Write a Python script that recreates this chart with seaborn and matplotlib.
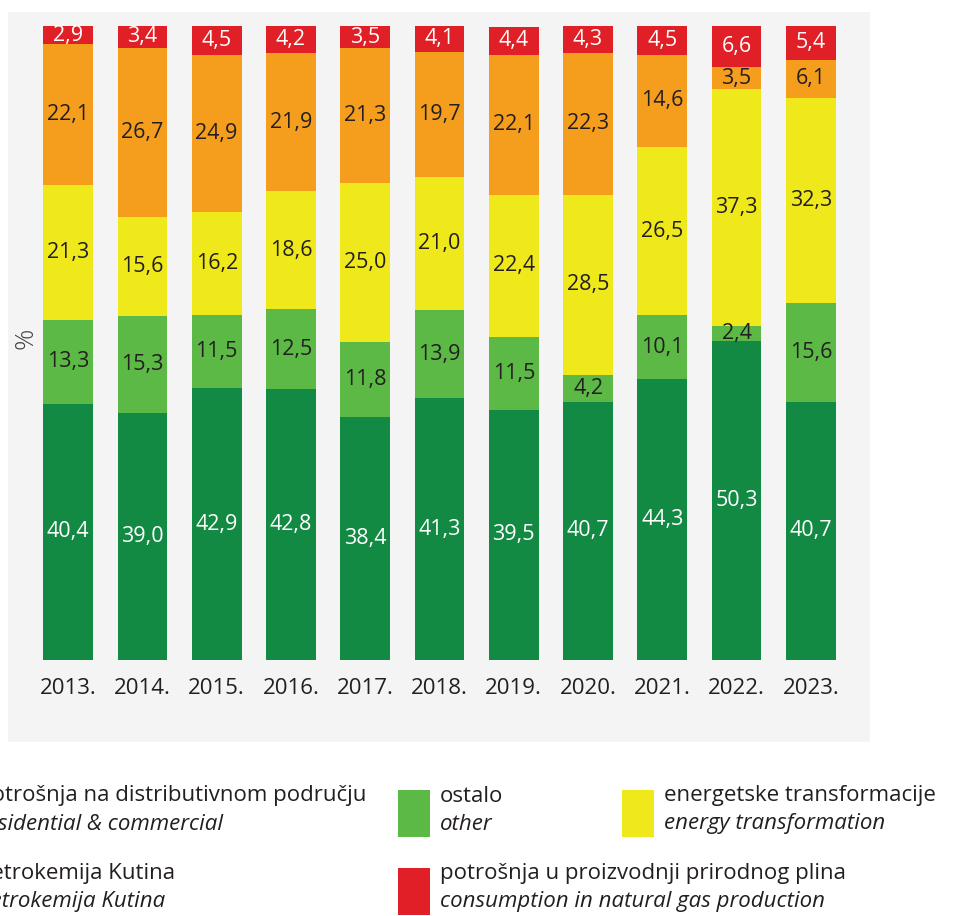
import matplotlib
matplotlib.use('Agg')
import matplotlib.pyplot as plt
from matplotlib.patches import Rectangle
import seaborn as sns
import pandas as pd

# data (% share of natural gas consumption)
years = ['2013.', '2014.', '2015.', '2016.', '2017.', '2018.', '2019.', '2020.', '2021.', '2022.', '2023.']
distribution = [40.4, 39.0, 42.9, 42.8, 38.4, 41.3, 39.5, 40.7, 44.3, 50.3, 40.7]
other = [13.3, 15.3, 11.5, 12.5, 11.8, 13.9, 11.5, 4.2, 10.1, 2.4, 15.6]
energy = [21.3, 15.6, 16.2, 18.6, 25.0, 21.0, 22.4, 28.5, 26.5, 37.3, 32.3]
petrokemija = [22.1, 26.7, 24.9, 21.9, 21.3, 19.7, 22.1, 22.3, 14.6, 3.5, 6.1]
production = [2.9, 3.4, 4.5, 4.2, 3.5, 4.1, 4.4, 4.3, 4.5, 6.6, 5.4]

series = ['distribution', 'other', 'energy', 'petrokemija', 'production']
colors = {'distribution': '#138a43', 'other': '#5cb946', 'energy': '#efe91b',
          'petrokemija': '#f59e1e', 'production': '#e01f26'}
label_colors = {'distribution': 'white', 'other': '#231f20', 'energy': '#231f20',
                'petrokemija': '#231f20', 'production': 'white'}
legend_hr = {'distribution': 'potrošnja na distributivnom području', 'other': 'ostalo',
             'energy': 'energetske transformacije', 'petrokemija': 'Petrokemija Kutina',
             'production': 'potrošnja u proizvodnji prirodnog plina'}
legend_en = {'distribution': 'residential & commercial', 'other': 'other',
             'energy': 'energy transformation', 'petrokemija': 'Petrokemija Kutina',
             'production': 'consumption in natural gas production'}

df = pd.DataFrame({'year': years, 'distribution': distribution, 'other': other,
                   'energy': energy, 'petrokemija': petrokemija, 'production': production})

sns.set_style('white')
plt.rcParams['font.family'] = ['Open Sans', 'DejaVu Sans']

W, H = 954, 916
fig = plt.figure(figsize=(W / 100, H / 100), dpi=100)
fig.patch.set_facecolor('white')

# gray panel behind the chart
fig.patches.append(Rectangle((8 / W, 1 - 742 / H), 862 / W, 730 / H, transform=fig.transFigure,
                             facecolor='#f4f4f4', edgecolor='none', zorder=-10))

ax = fig.add_axes([31 / W, 1 - 660 / H, 817 / W, 634 / H])
ax.patch.set_alpha(0)

bottom = [0.0] * len(years)
for s in series:
    sns.barplot(data=df, x='year', y=s, color=colors[s], width=0.67, bottom=bottom,
                saturation=1, ax=ax, linewidth=0)
    cont = ax.containers[-1]
    ax.bar_label(cont, labels=[f'{v:.1f}'.replace('.', ',') for v in df[s]], label_type='center',
                 color=label_colors[s], fontsize=15.5)
    bottom = [b + v for b, v in zip(bottom, df[s])]

ax.set_ylim(0, 100)
ax.set_xlim(-0.5, len(years) - 0.5)
ax.set_yticks([])
ax.set_xlabel('')
ax.set_ylabel('')
sns.despine(ax=ax, left=True, bottom=True)
ax.tick_params(axis='x', length=0, pad=13, labelsize=16, labelcolor='#231f20')

fig.text(26 / W, 1 - 338 / H, '%', rotation=90, ha='center', va='center', fontsize=19,
         color='#444444', fontweight='light')

# legend (first column runs off the left edge, as in the source)
positions = {'distribution': (-64, 790), 'petrokemija': (-64, 868), 'other': (398, 790),
             'production': (398, 868), 'energy': (622, 790)}
for s in series:
    px, py = positions[s]
    fig.patches.append(Rectangle((px / W, 1 - (py + 47) / H), 32 / W, 47 / H, transform=fig.transFigure,
                                 facecolor=colors[s], edgecolor='none'))
    fig.text((px + 42) / W, 1 - (py + 6) / H, legend_hr[s], ha='left', va='center', fontsize=16,
             color='#231f20')
    fig.text((px + 42) / W, 1 - (py + 34) / H, legend_en[s], ha='left', va='center', fontsize=16,
             color='#231f20', style='italic')

fig.savefig('out.png', dpi=100)
